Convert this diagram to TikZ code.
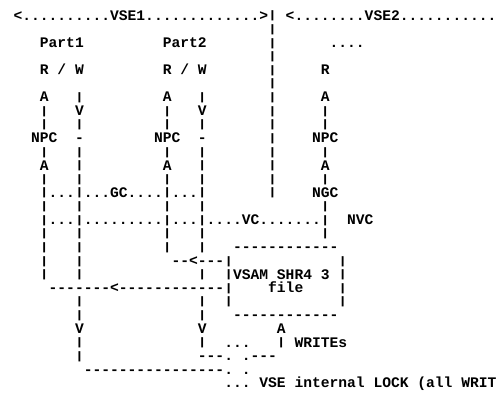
\documentclass[tikz,border=0pt]{standalone}
\usepackage{fontspec}
\setmonofont{Liberation Mono}
\usepackage{graphicx}
\usepackage{tikz}
\usetikzlibrary{positioning}

\newlength\colw
\setlength\colw{8.7795pt}
\newcommand{\colgap}[1]{\hspace*{#1\colw}}
\newcommand{\vln}{\raisebox{1.4pt}{\scalebox{1}[0.74]{|}}}

\tikzset{
  asciirow/.style = {anchor=base west, inner sep=0pt, outer sep=0pt,
                     font=\ttfamily\bfseries\fontsize{14.63}{14.63}\selectfont\frenchspacing},
}

\begin{document}
\begin{tikzpicture}[x=1pt, y=1pt]

  \fill[white] (0,0) rectangle (497,-394);
  \useasboundingbox (0,0) rectangle (497,-394);

  % ---- the two VSE systems ----
  \node[asciirow] (r01) at (-3.99, -20.2)  {\colgap{2}<..........VSE1.............>\vln\colgap{1}<........VSE2...........};
  \node[asciirow] (r02) at (-3.99, -33.8)  {\colgap{31}\vln};
  \node[asciirow] (r03) at (-3.99, -47.4)  {\colgap{5}Part1\colgap{9}Part2\colgap{7}\vln\colgap{6}....};
  \node[asciirow] (r04) at (-3.99, -61.1)  {\colgap{31}\vln};
  \node[asciirow] (r05) at (-3.99, -74.7)  {\colgap{5}R / W\colgap{9}R / W\colgap{7}\vln\colgap{5}R};
  \node[asciirow] (r06) at (-3.99, -88.3)  {\colgap{31}\vln};

  % ---- partitions down to the caches ----
  \node[asciirow] (r07) at (-3.99, -101.9) {\colgap{5}A\colgap{3}\vln\colgap{9}A\colgap{3}\vln\colgap{7}\vln\colgap{5}A};
  \node[asciirow] (r08) at (-3.99, -115.5) {\colgap{5}\vln\colgap{3}V\colgap{9}\vln\colgap{3}V\colgap{7}\vln\colgap{5}\vln};
  \node[asciirow] (r09) at (-3.99, -129.2) {\colgap{5}\vln\colgap{3}\vln\colgap{9}\vln\colgap{3}\vln\colgap{7}\vln\colgap{5}\vln};
  \node[asciirow] (r10) at (-3.99, -142.8) {\colgap{4}NPC\colgap{2}-\colgap{8}NPC\colgap{2}-\colgap{7}\vln\colgap{4}NPC};
  \node[asciirow] (r11) at (-3.99, -156.4) {\colgap{5}\vln\colgap{3}\vln\colgap{9}\vln\colgap{3}\vln\colgap{7}\vln\colgap{5}\vln};
  \node[asciirow] (r12) at (-3.99, -170.0) {\colgap{5}A\colgap{3}\vln\colgap{9}A\colgap{3}\vln\colgap{7}\vln\colgap{5}A};
  \node[asciirow] (r13) at (-3.99, -183.6) {\colgap{5}\vln\colgap{3}\vln\colgap{9}\vln\colgap{3}\vln\colgap{7}\vln\colgap{5}\vln};
  \node[asciirow] (r14) at (-3.99, -197.3) {\colgap{5}\vln...\vln...GC....\vln...\vln\colgap{7}\vln\colgap{4}NGC};
  \node[asciirow] (r15) at (-3.99, -210.9) {\colgap{5}\vln\colgap{3}\vln\colgap{9}\vln\colgap{3}\vln\colgap{13}\vln};
  \node[asciirow] (r16) at (-3.99, -224.5) {\colgap{5}\vln...\vln.........\vln...\vln....VC.......\vln\colgap{2}NVC};
  \node[asciirow] (r17) at (-3.99, -238.1) {\colgap{5}\vln\colgap{3}\vln\colgap{9}\vln\colgap{3}\vln\colgap{13}\vln};

  % ---- shared VSAM file ----
  \node[asciirow] (r18) at (-3.99, -251.7) {\colgap{5}\vln\colgap{3}\vln\colgap{9}\vln\colgap{3}\vln\colgap{3}------------};
  \node[asciirow] (r19) at (-3.99, -265.4) {\colgap{5}\vln\colgap{3}\vln\colgap{10}--<---\vln\colgap{12}\vln};
  \node[asciirow] (r20) at (-3.99, -279.0) {\colgap{5}\vln\colgap{3}\vln\colgap{13}\vln\colgap{2}\vln VSAM SHR4 3 \vln};
  \node[asciirow] (r21) at (-3.99, -292.6) {\colgap{6}-------<------------\vln\colgap{4}file\colgap{4}\vln};
  \node[asciirow] (r22) at (-3.99, -306.2) {\colgap{9}\vln\colgap{13}\vln\colgap{2}\vln\colgap{12}\vln};
  \node[asciirow] (r23) at (-3.99, -319.8) {\colgap{9}\vln\colgap{13}\vln\colgap{3}------------};

  % ---- writes and the internal lock ----
  \node[asciirow] (r24) at (-3.99, -333.5) {\colgap{9}V\colgap{13}V\colgap{8}A};
  \node[asciirow] (r25) at (-3.99, -347.1) {\colgap{9}\vln\colgap{13}\vln\colgap{2}...\colgap{3}\vln\ WRITEs};
  \node[asciirow] (r26) at (-3.99, -360.7) {\colgap{9}\vln\colgap{13}---.\colgap{1}.---};
  \node[asciirow] (r27) at (-3.99, -374.3) {\colgap{10}----------------.\colgap{1}.};
  \node[asciirow] (r28) at (-3.99, -387.9) {\colgap{26}... VSE internal LOCK (all WRIT};

\end{tikzpicture}
\end{document}
